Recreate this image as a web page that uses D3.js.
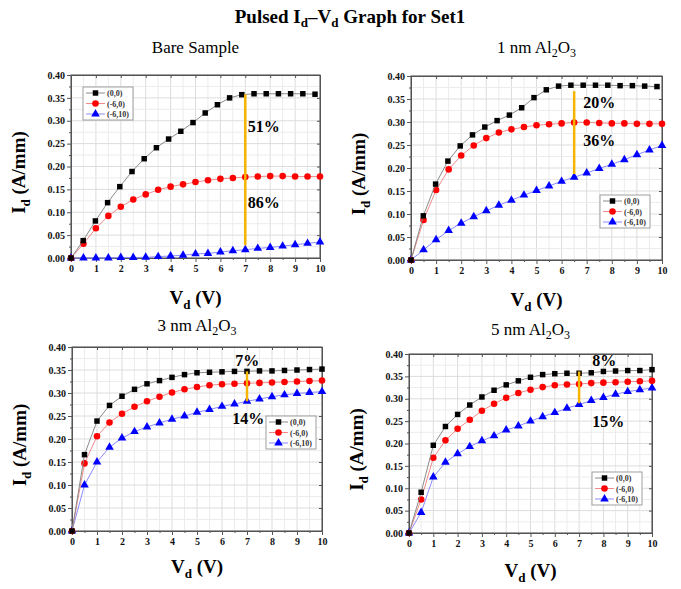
<html>
<head>
<title>Pulsed Id-Vd Set1</title>
<style>
  body { margin: 0; background: #fff; }
  text { font-family: "Liberation Serif", "Times New Roman", serif; }
</style>
</head>
<body>
<div id="svghere"></div>
<script src="https://cdn.jsdelivr.net/npm/d3@7/dist/d3.min.js"></script>
<script>
// x values (V)
var vdHalf = [0, 0.5, 1, 1.5, 2, 2.5, 3, 3.5, 4, 4.5, 5, 5.5, 6, 6.5, 7, 7.5, 8, 8.5, 9, 9.5, 10];
var vdShort = [0, 0.49, 0.98, 1.47, 1.96, 2.45, 2.94, 3.43, 3.92, 4.41, 4.9, 5.39, 5.88, 6.37, 6.86, 7.35, 7.84, 8.33, 8.82, 9.31, 9.8];

var seriesNames = ["(0,0)", "(-6,0)", "(-6,10)"];
var yTicks = [0, 0.05, 0.10, 0.15, 0.20, 0.25, 0.30, 0.35, 0.40];
var xTicks = [0, 1, 2, 3, 4, 5, 6, 7, 8, 9, 10];

// Bare sample
var bareBlack = [0, 0.038, 0.081, 0.121, 0.156, 0.189, 0.217, 0.241, 0.260, 0.277, 0.296, 0.317, 0.335, 0.350, 0.357, 0.359, 0.359, 0.359, 0.359, 0.359, 0.358];
var bareRed = [0, 0.031, 0.065, 0.092, 0.112, 0.128, 0.139, 0.149, 0.156, 0.161, 0.166, 0.170, 0.173, 0.175, 0.177, 0.178, 0.179, 0.179, 0.178, 0.178, 0.178];
var bareBlue = [0, 0, 0, 0, 0.001, 0.001, 0.0015, 0.003, 0.0045, 0.006, 0.009, 0.010, 0.013, 0.016, 0.018, 0.021, 0.023, 0.026, 0.029, 0.032, 0.035];

// 1 nm Al2O3
var nm1Black = [0, 0.096, 0.165, 0.215, 0.248, 0.272, 0.289, 0.303, 0.315, 0.331, 0.353, 0.370, 0.378, 0.380, 0.380, 0.380, 0.380, 0.379, 0.379, 0.378, 0.377];
var nm1Red = [0, 0.087, 0.152, 0.197, 0.227, 0.249, 0.265, 0.277, 0.284, 0.289, 0.293, 0.295, 0.297, 0.299, 0.299, 0.298, 0.297, 0.297, 0.296, 0.296, 0.296];
var nm1Blue = [0, 0.022, 0.044, 0.064, 0.080, 0.094, 0.107, 0.119, 0.130, 0.141, 0.151, 0.161, 0.171, 0.180, 0.189, 0.199, 0.208, 0.218, 0.229, 0.239, 0.249];

// 3 nm Al2O3
var nm3Black = [0, 0.166, 0.239, 0.273, 0.293, 0.308, 0.320, 0.327, 0.334, 0.340, 0.344, 0.345, 0.346, 0.347, 0.347, 0.348, 0.348, 0.349, 0.350, 0.351, 0.352];
var nm3Red = [0, 0.147, 0.206, 0.236, 0.255, 0.270, 0.282, 0.292, 0.301, 0.308, 0.313, 0.317, 0.319, 0.320, 0.321, 0.322, 0.323, 0.324, 0.325, 0.326, 0.327];
var nm3Blue = [0, 0.100, 0.150, 0.182, 0.202, 0.216, 0.226, 0.235, 0.243, 0.250, 0.258, 0.264, 0.271, 0.276, 0.282, 0.287, 0.292, 0.296, 0.299, 0.301, 0.303];

// 5 nm Al2O3
var nm5Black = [0, 0.091, 0.196, 0.238, 0.265, 0.286, 0.304, 0.319, 0.331, 0.340, 0.348, 0.354, 0.356, 0.357, 0.357, 0.358, 0.361, 0.362, 0.363, 0.363, 0.365];
var nm5Red = [0, 0.075, 0.168, 0.207, 0.233, 0.253, 0.273, 0.289, 0.302, 0.313, 0.320, 0.326, 0.330, 0.332, 0.333, 0.335, 0.336, 0.337, 0.338, 0.339, 0.340];
var nm5Blue = [0, 0.046, 0.125, 0.158, 0.177, 0.193, 0.206, 0.217, 0.230, 0.239, 0.250, 0.260, 0.269, 0.279, 0.287, 0.296, 0.303, 0.310, 0.316, 0.320, 0.324];

// current drop markers: [x, yTop, yBottom] and labels
var bareDrop = [7, 0.358, 0.028], bareLabels = ["51%", "86%"];
var nm1Drop = [6.5, 0.367, 0.187], nm1Labels = ["20%", "36%"];
var nm3Drop = [7, 0.347, 0.282], nm3Labels = ["7%", "14%"];
var nm5Drop = [7, 0.361, 0.290], nm5Labels = ["8%", "15%"];

var W = 681, H = 589;
var svg = d3.select("#svghere").append("svg").attr("width", W).attr("height", H);

// title
var title = svg.append("text").attr("x", 350).attr("y", 23).attr("text-anchor", "middle")
    .attr("font-size", 19).attr("font-weight", "bold");
title.append("tspan").text("Pulsed I");
title.append("tspan").attr("font-size", 13).attr("dy", 4).text("d");
title.append("tspan").attr("dy", -4).text("\u2013V");
title.append("tspan").attr("font-size", 13).attr("dy", 4).text("d");
title.append("tspan").attr("dy", -4).text(" Graph for Set1");

var panels = [
  {name: ["Bare Sample"], box: [71, 320, 75, 258], tY: 53,
   xs: [vdShort, vdHalf, vdHalf], ys: [bareBlack, bareRed, bareBlue],
   drop: bareDrop, labels: bareLabels, labPos: [[7.1, 0.275], [7.1, 0.109]],
   legend: [83, 87], xlabY: 304},
  {name: ["1 nm Al", "2", "O", "3"], box: [411, 662, 76, 260], tY: 53,
   xs: [vdShort, vdHalf, vdHalf], ys: [nm1Black, nm1Red, nm1Blue],
   drop: nm1Drop, labels: nm1Labels, labPos: [[6.86, 0.33], [6.86, 0.247]],
   legend: [600, 195], xlabY: 306},
  {name: ["3 nm Al", "2", "O", "3"], box: [72, 322, 347, 531], tY: 331,
   xs: [vdHalf, vdHalf, vdHalf], ys: [nm3Black, nm3Red, nm3Blue],
   drop: nm3Drop, labels: nm3Labels, labPos: [[6.53, 0.359], [6.41, 0.233]],
   legend: [266, 416], xlabY: 573},
  {name: ["5 nm Al", "2", "O", "3"], box: [409, 652, 354, 533], tY: 335,
   xs: [vdHalf, vdHalf, vdHalf], ys: [nm5Black, nm5Red, nm5Blue],
   drop: nm5Drop, labels: nm5Labels, labPos: [[7.54, 0.373], [7.54, 0.236]],
   legend: [592, 472], xlabY: 577}
];

var markColor = ["#000000", "#ff0000", "#0000ff"];
var lineColor = ["#8a8a8a", "#f08a8a", "#8a8aff"];
var symbols = [d3.symbolSquare, d3.symbolCircle, d3.symbolTriangle];
var symSize = [30, 34, 32];

panels.forEach(function(p) {
  var x = d3.scaleLinear().domain([0, 10]).range([p.box[0], p.box[1]]);
  var y = d3.scaleLinear().domain([0, 0.4]).range([p.box[3], p.box[2]]);
  var g = svg.append("g");

  // grid
  d3.range(0, 10.01, 0.5).forEach(function(v) {
    g.append("line").attr("x1", x(v)).attr("x2", x(v)).attr("y1", y(0)).attr("y2", y(0.4))
      .attr("stroke", v % 1 === 0 ? "#dcdcdc" : "#ececec").attr("stroke-width", 1);
  });
  d3.range(0, 0.401, 0.025).forEach(function(v, i) {
    g.append("line").attr("x1", x(0)).attr("x2", x(10)).attr("y1", y(v)).attr("y2", y(v))
      .attr("stroke", i % 2 === 0 ? "#dcdcdc" : "#ececec").attr("stroke-width", 1);
  });

  // axes
  var ax = g.append("g").attr("transform", "translate(0," + y(0) + ")")
    .call(d3.axisBottom(x).tickValues(xTicks).tickFormat(d3.format("d")).tickSize(4).tickPadding(3));
  var axm = g.append("g").attr("transform", "translate(0," + y(0) + ")")
    .call(d3.axisBottom(x).tickValues(d3.range(0.5, 10, 1)).tickFormat("").tickSize(2));
  var ay = g.append("g").attr("transform", "translate(" + x(0) + ",0)")
    .call(d3.axisLeft(y).tickValues(yTicks).tickFormat(d3.format(".2f")).tickSize(4).tickPadding(2));
  var aym = g.append("g").attr("transform", "translate(" + x(0) + ",0)")
    .call(d3.axisLeft(y).tickValues(d3.range(0.025, 0.4, 0.05)).tickFormat("").tickSize(2));
  var at = g.append("g").attr("transform", "translate(0," + y(0.4) + ")")
    .call(d3.axisBottom(x).tickValues(xTicks).tickFormat("").tickSize(3));
  var ar = g.append("g").attr("transform", "translate(" + x(10) + ",0)")
    .call(d3.axisLeft(y).tickValues(yTicks).tickFormat("").tickSize(3));
  [ax, axm, ay, aym, at, ar].forEach(function(a) {
    a.selectAll("path").attr("stroke", "#555");
    a.selectAll("line").attr("stroke", "#555");
    a.selectAll("text").attr("font-weight", "bold").attr("font-size", 10).attr("fill", "#111");
  });
  g.append("rect").attr("x", x(0)).attr("y", y(0.4)).attr("width", x(10) - x(0)).attr("height", y(0) - y(0.4))
    .attr("fill", "none").attr("stroke", "#555").attr("stroke-width", 1);

  // series
  [2, 1, 0].forEach(function(s) {
    var pts = p.xs[s].map(function(v, i) { return [v, p.ys[s][i]]; });
    g.append("path").datum(pts)
      .attr("d", d3.line().x(function(d) { return x(d[0]); }).y(function(d) { return y(d[1]); }))
      .attr("fill", "none").attr("stroke", lineColor[s]).attr("stroke-width", 1);
    g.selectAll(null).data(pts).enter().append("path")
      .attr("transform", function(d) { return "translate(" + x(d[0]) + "," + y(d[1]) + ")"; })
      .attr("d", d3.symbol().type(symbols[s]).size(symSize[s]))
      .attr("fill", markColor[s]);
  });

  // yellow drop line
  g.append("line").attr("x1", x(p.drop[0])).attr("x2", x(p.drop[0]))
    .attr("y1", y(p.drop[1])).attr("y2", y(p.drop[2]))
    .attr("stroke", "#f5b400").attr("stroke-width", 2.5);
  p.labels.forEach(function(t, i) {
    g.append("text").attr("x", x(p.labPos[i][0])).attr("y", y(p.labPos[i][1]))
      .attr("font-size", 16).attr("font-weight", "bold").text(t);
  });

  // legend
  var lg = g.append("g").attr("transform", "translate(" + p.legend[0] + "," + p.legend[1] + ")");
  lg.append("rect").attr("width", 50).attr("height", 33).attr("fill", "#fff")
    .attr("stroke", "#888").attr("stroke-width", 0.8);
  seriesNames.forEach(function(n, s) {
    var yy = 6 + s * 10.5;
    lg.append("line").attr("x1", 3).attr("x2", 22).attr("y1", yy).attr("y2", yy)
      .attr("stroke", lineColor[s]).attr("stroke-width", 1);
    lg.append("path").attr("transform", "translate(12.5," + yy + ")")
      .attr("d", d3.symbol().type(symbols[s]).size(symSize[s])).attr("fill", markColor[s]);
    lg.append("text").attr("x", 24).attr("y", yy + 3).attr("font-size", 8).attr("font-weight", "bold")
      .attr("fill", "#333").text(n);
  });

  // panel title
  var cx = (p.box[0] + p.box[1]) / 2;
  var pt = svg.append("text").attr("x", cx).attr("y", p.tY).attr("text-anchor", "middle").attr("font-size", 17);
  p.name.forEach(function(part, i) {
    var sub = i % 2 === 1;
    pt.append("tspan").attr("font-size", sub ? 12 : 17).attr("dy", sub ? 4 : (i > 0 ? -4 : 0)).text(part);
  });

  // axis titles
  var xl = svg.append("text").attr("x", cx).attr("y", p.xlabY).attr("text-anchor", "middle")
    .attr("font-size", 19).attr("font-weight", "bold");
  xl.append("tspan").text("V");
  xl.append("tspan").attr("font-size", 13).attr("dy", 5).text("d");
  xl.append("tspan").attr("dy", -5).text(" (V)");

  var cy = (p.box[2] + p.box[3]) / 2 + 6;
  var lx = p.box[0] - 46;
  var yl = svg.append("text").attr("transform", "translate(" + lx + "," + cy + ") rotate(-90)")
    .attr("text-anchor", "middle").attr("font-size", 19).attr("font-weight", "bold");
  yl.append("tspan").text("I");
  yl.append("tspan").attr("font-size", 13).attr("dy", 5).text("d");
  yl.append("tspan").attr("dy", -5).text(" (A/mm)");
});
</script>
</body>
</html>
